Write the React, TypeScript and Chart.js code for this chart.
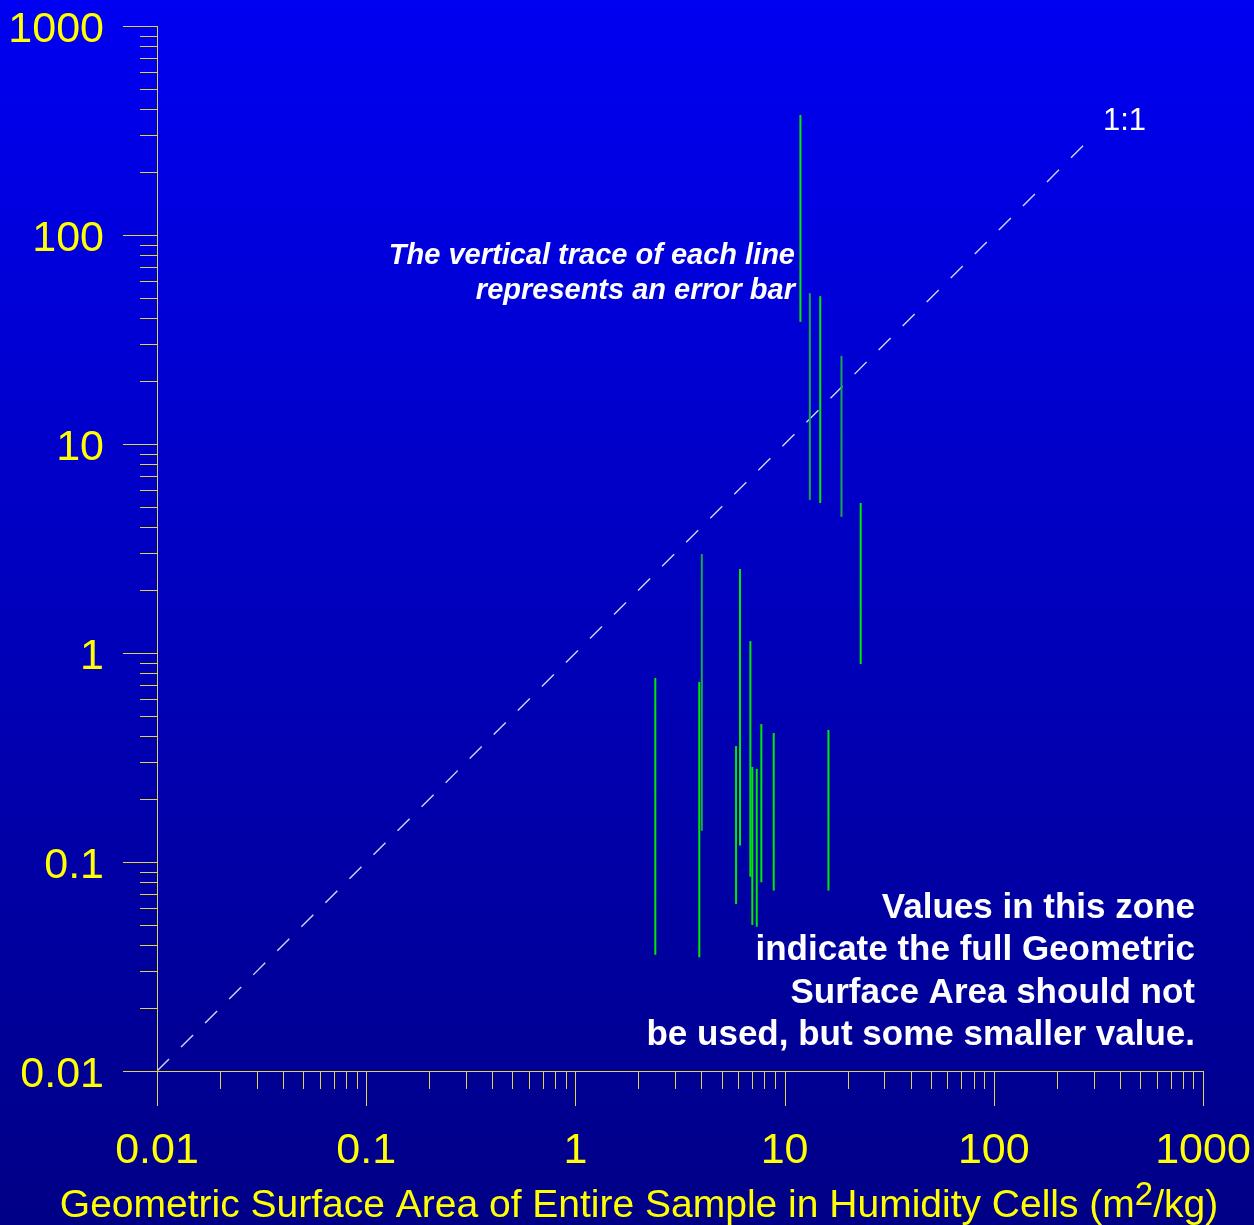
import { useEffect, useRef } from 'react';
import { Chart, registerables } from 'chart.js';
Chart.register(...registerables);

// Error-bar traces: x position, lower and upper y value
const errX = [2.41, 3.91, 4.02, 5.86, 6.12, 6.12, 6.86, 7.01, 7.36, 7.74, 8.87, 16.2, 23.1, 11.9, 13.2, 14.8, 18.7];
const errLow = [0.036, 0.035, 0.141, 0.063, 0.12, 0.183, 0.085, 0.05, 0.049, 0.08, 0.073, 0.073, 0.885, 38.4, 5.4, 5.22, 4.48];
const errHigh = [0.76, 0.726, 2.98, 0.359, 2.52, 1.8, 1.14, 0.285, 0.279, 0.457, 0.414, 0.428, 5.22, 375, 52.7, 51.0, 26.4];

// 1:1 reference line
const diagX = [0.01, 270];
const diagY = [0.01, 270];

const axisMin = 0.01;
const axisMax = 1000;
const majorTicks = [0.01, 0.1, 1, 10, 100, 1000];
const majorLabels = ['0.01', '0.1', '1', '10', '100', '1000'];

const xTitleMain = 'Geometric Surface Area of Entire Sample in Humidity Cells (m';
const xTitleSup = '2';
const xTitleEnd = '/kg)';
const noteTop = ['The vertical trace of each line', 'represents an error bar'];
const noteZone = ['Values in this zone', 'indicate the full Geometric', 'Surface Area should not', 'be used, but some smaller value.'];
const diagLabel = '1:1';

const FONT = '"Liberation Sans", Arial, sans-serif';
const darkIdx = [2, 14, 16];

function allTicks() {
  const t: { v: number; major: boolean }[] = [];
  for (let k = -2; k <= 2; k++) {
    for (let m = 1; m <= 9; m++) t.push({ v: m * Math.pow(10, k), major: m === 1 });
  }
  t.push({ v: 1000, major: true });
  return t;
}

const decorPlugin = {
  id: 'decor',
  beforeDraw(chart: any) {
    const { ctx, width, height } = chart;
    const g = ctx.createLinearGradient(0, 0, 0, height);
    g.addColorStop(0, '#0000f2');
    g.addColorStop(1, '#000086');
    ctx.save();
    ctx.fillStyle = g;
    ctx.fillRect(0, 0, width, height);
    ctx.restore();
  },
  afterDraw(chart: any) {
    const { ctx } = chart;
    const xs = chart.scales.x;
    const ys = chart.scales.y;
    const area = chart.chartArea;
    const axisCol = '#e0d44c';
    ctx.save();
    ctx.lineWidth = 1;
    ctx.strokeStyle = axisCol;
    // axis lines
    ctx.beginPath();
    ctx.moveTo(area.left - 34, area.bottom + 0.5);
    ctx.lineTo(area.right, area.bottom + 0.5);
    ctx.moveTo(area.left + 0.5, area.top);
    ctx.lineTo(area.left + 0.5, area.bottom + 35);
    ctx.stroke();
    // ticks
    ctx.beginPath();
    for (const t of allTicks()) {
      const px = Math.round(xs.getPixelForValue(t.v)) + 0.5;
      const py = Math.round(ys.getPixelForValue(t.v)) + 0.5;
      const len = t.major ? 35 : 18;
      ctx.moveTo(px, area.bottom);
      ctx.lineTo(px, area.bottom + len);
      ctx.moveTo(area.left, py);
      ctx.lineTo(area.left - (t.major ? 34 : 17), py);
    }
    ctx.stroke();
    // tick labels
    ctx.fillStyle = '#ffff00';
    ctx.font = `43px ${FONT}`;
    ctx.textBaseline = 'middle';
    majorTicks.forEach((v, i) => {
      ctx.textAlign = 'right';
      ctx.fillText(majorLabels[i], area.left - 53, ys.getPixelForValue(v) + 4);
      ctx.textAlign = 'center';
      ctx.fillText(majorLabels[i], xs.getPixelForValue(v), area.bottom + 80);
    });
    // x title with superscript
    ctx.textAlign = 'left';
    ctx.textBaseline = 'alphabetic';
    ctx.font = `39px ${FONT}`;
    const w1 = ctx.measureText(xTitleMain).width;
    ctx.font = `33px ${FONT}`;
    const w2 = ctx.measureText(xTitleSup).width;
    ctx.font = `39px ${FONT}`;
    const w3 = ctx.measureText(xTitleEnd).width;
    const total = w1 + w2 + w3;
    const tx = 639 - total / 2;
    const ty = 1217;
    ctx.fillText(xTitleMain, tx, ty);
    ctx.font = `33px ${FONT}`;
    ctx.fillText(xTitleSup, tx + w1, ty - 12);
    ctx.font = `39px ${FONT}`;
    ctx.fillText(xTitleEnd, tx + w1 + w2, ty);
    // annotations
    ctx.fillStyle = '#ffffff';
    ctx.textAlign = 'right';
    ctx.textBaseline = 'middle';
    ctx.font = `italic bold 29px ${FONT}`;
    ctx.fillText(noteTop[0], 795, 256);
    ctx.fillText(noteTop[1], 795, 291);
    ctx.font = `bold 35px ${FONT}`;
    noteZone.forEach((s, i) => ctx.fillText(s, 1195, 908 + i * 42.5));
    ctx.textAlign = 'left';
    ctx.font = `31px ${FONT}`;
    ctx.fillText(diagLabel, 1103, 121);
    ctx.restore();
  },
};

export default function App() {
  const ref = useRef<HTMLCanvasElement | null>(null);
  useEffect(() => {
    document.body.style.margin = '0';
    const canvas = ref.current;
    if (!canvas) return;
    const datasets: any[] = errX.map((x, i) => ({
      data: [
        { x, y: errLow[i] },
        { x, y: errHigh[i] },
      ],
      borderColor: darkIdx.includes(i) ? '#1ca84a' : '#00ea00',
      borderWidth: 2,
      pointRadius: 0,
      fill: false,
      tension: 0,
    }));
    datasets.push({
      data: diagX.map((x, i) => ({ x, y: diagY[i] })),
      borderColor: '#d4d4ff',
      borderWidth: 1.4,
      borderDash: [17, 17],
      pointRadius: 0,
      fill: false,
    });
    const chart = new Chart(canvas, {
      type: 'line',
      data: { datasets },
      options: {
        animation: false,
        responsive: false,
        events: [],
        layout: { padding: { top: 26, right: 51, left: 0, bottom: 0 } },
        plugins: { legend: { display: false }, tooltip: { enabled: false } },
        scales: {
          x: {
            type: 'logarithmic',
            min: axisMin,
            max: axisMax,
            ticks: { display: false },
            grid: { display: false },
            border: { display: false },
            afterFit: (s: any) => { s.height = 154; },
          },
          y: {
            type: 'logarithmic',
            min: axisMin,
            max: axisMax,
            ticks: { display: false },
            grid: { display: false },
            border: { display: false },
            afterFit: (s: any) => { s.width = 157; },
          },
        },
      },
      plugins: [decorPlugin],
    } as any);
    return () => chart.destroy();
  }, []);
  return <canvas ref={ref} width={1254} height={1225} style={{ display: 'block' }} />;
}
